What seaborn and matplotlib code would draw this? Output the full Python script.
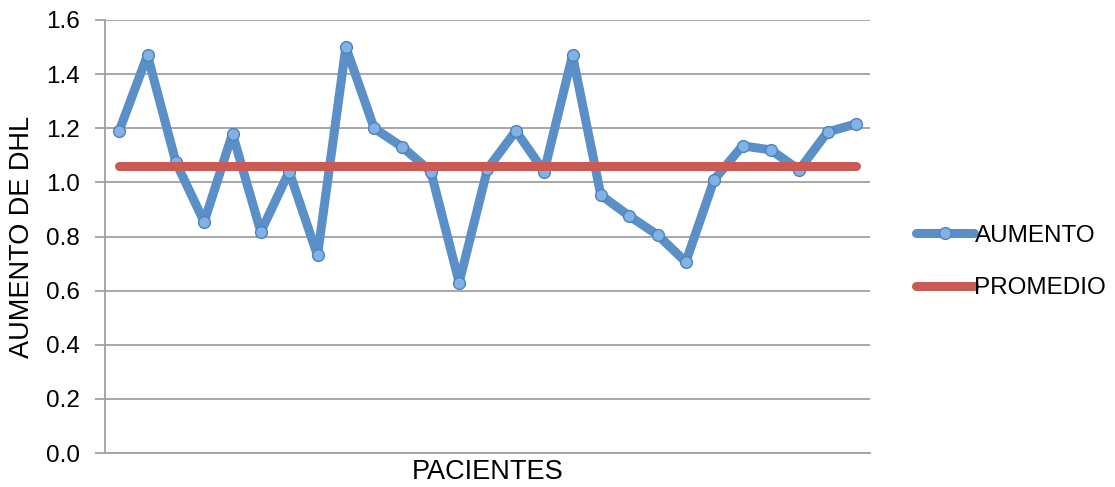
import matplotlib
matplotlib.use("Agg")
import matplotlib.pyplot as plt
import seaborn as sns
import pandas as pd

# Increase in DHL per patient, and the group average
pacientes = list(range(1, 28))
aumento = [1.19, 1.47, 1.075, 0.854, 1.18, 0.817, 1.04, 0.73, 1.50, 1.20,
           1.13, 1.04, 0.63, 1.05, 1.19, 1.04, 1.47, 0.953, 0.876, 0.806,
           0.706, 1.01, 1.135, 1.12, 1.046, 1.186, 1.216]
promedio = [1.06] * len(pacientes)
y_ticks = [0.0, 0.2, 0.4, 0.6, 0.8, 1.0, 1.2, 1.4, 1.6]

df = pd.DataFrame({"PACIENTE": pacientes, "AUMENTO": aumento, "PROMEDIO": promedio})

sns.set_style("white")
plt.rcParams["font.family"] = ["Liberation Sans", "DejaVu Sans"]
plt.rcParams["text.color"] = "black"
plt.rcParams["axes.labelcolor"] = "black"
plt.rcParams["ytick.color"] = "black"

fig = plt.figure(figsize=(11.15, 4.87), dpi=100)
ax = fig.add_axes([105 / 1115, 1 - 453 / 487, (870 - 105) / 1115, (453 - 20) / 487])

blue = "#5b8fc7"
red = "#c95b54"
fs_tick = 17.5
fs_label = 19.5

sns.lineplot(data=df, x="PACIENTE", y="AUMENTO", ax=ax, color=blue, linewidth=6.5,
             marker="o", markersize=8.5, markerfacecolor="#80b2e6",
             markeredgecolor="#4f82bb", markeredgewidth=1.0,
             solid_capstyle="round", solid_joinstyle="round", label="AUMENTO",
             zorder=3)
sns.lineplot(data=df, x="PACIENTE", y="PROMEDIO", ax=ax, color=red, linewidth=6.5,
             solid_capstyle="round", label="PROMEDIO", zorder=4)

ax.set_xlim(0.5, 27.5)
ax.set_ylim(0, 1.6)
ax.set_yticks(y_ticks)
ax.set_yticklabels([f"{v:.1f}" for v in y_ticks], fontsize=fs_tick)
ax.set_xticks([])
ax.grid(axis="y", color="#a0a0a0", linewidth=1.3)
ax.set_axisbelow(True)

for side in ["top", "right"]:
    ax.spines[side].set_visible(False)
for side in ["left", "bottom"]:
    ax.spines[side].set_color("#a0a0a0")
    ax.spines[side].set_linewidth(1.3)
ax.tick_params(axis="y", which="major", direction="out", length=7, width=1.3,
               color="#a0a0a0", labelcolor="black", left=True, pad=11)

ax.set_ylabel("AUMENTO DE DHL", fontsize=fs_label, labelpad=8)
ax.set_xlabel("PACIENTES", fontsize=fs_label, labelpad=4)

if ax.get_legend():
    ax.get_legend().remove()
handles, labels = ax.get_legend_handles_labels()
fig.legend(handles, labels, loc="center left", bbox_to_anchor=(904 / 1115, 1 - 262 / 487),
           frameon=False, fontsize=fs_tick, handlelength=2.4, handletextpad=0.0,
           labelspacing=1.24, borderpad=0)

fig.savefig("out.png", dpi=100)
